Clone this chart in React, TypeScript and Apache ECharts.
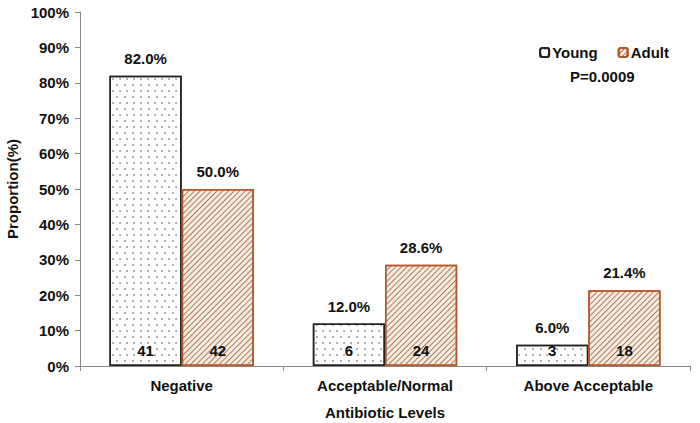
import React, { useEffect, useRef } from "react";
import * as echarts from "echarts";

const categories = ["Negative", "Acceptable/Normal", "Above Acceptable"];
const youngPct = [82.0, 12.0, 6.0];
const adultPct = [50.0, 28.6, 21.4];
const youngCount = [41, 6, 3];
const adultCount = [42, 24, 18];
const yTicks = [0, 10, 20, 30, 40, 50, 60, 70, 80, 90, 100];
const pValue = "P=0.0009";

const FONT = "Liberation Sans, Arial, sans-serif";
const FS = 15;

export default function App() {
  const ref = useRef<HTMLDivElement>(null);
  useEffect(() => {
    if (!ref.current) return;
    const chart = echarts.init(ref.current, undefined, { renderer: "svg" });
    const youngDecal = {
      symbol: "circle",
      symbolSize: 0.7,
      color: "#333",
      dashArrayX: [
        [1.6, 4.7],
        [0, 3.1, 1.6, 1.6],
      ],
      dashArrayY: [1.6, 3.6],
      rotation: 0,
    };
    const adultDecal = {
      symbol: "rect",
      symbolSize: 1,
      color: "#b07a55",
      dashArrayX: [1, 0],
      dashArrayY: [0.8, 2.4],
      rotation: -Math.PI / 4,
    };
    const common = {
      type: "bar" as const,
      barGap: "0%",
      barCategoryGap: "29%",
    };
    const txt = { fontFamily: FONT, fontWeight: "bold" as const, fontSize: FS, color: "#111" };
    chart.setOption({
      animation: false,
      grid: { left: 80, right: 10, top: 12, bottom: 57, containLabel: false, outerBoundsMode: "none" },
      legend: {
        data: ["Young", "Adult"],
        right: 26,
        top: 40,
        itemWidth: 9,
        itemHeight: 9,
        itemGap: 20,
        textStyle: { ...txt, padding: [0, 0, 0, -2] },
      },
      graphic: [
        {
          type: "text",
          left: 570,
          top: 69,
          style: { text: pValue, fontFamily: FONT, fontWeight: "bold", fontSize: FS, fill: "#111" },
        },
      ],
      xAxis: [
        {
          type: "category",
          data: categories,
          axisLine: { lineStyle: { color: "#888" } },
          axisTick: { show: true, alignWithLabel: false, length: 5, lineStyle: { color: "#888" } },
          axisLabel: { ...txt, margin: 12 },
          name: "Antibiotic Levels",
          nameLocation: "middle",
          nameGap: 39,
          nameTextStyle: txt,
        },
        {
          type: "category",
          data: categories,
          show: false,
        },
      ],
      yAxis: {
        type: "value",
        min: 0,
        max: 100,
        interval: 10,
        splitLine: { show: false },
        axisLine: { show: true, lineStyle: { color: "#888" } },
        axisTick: { show: true, length: 5, lineStyle: { color: "#888" } },
        axisLabel: {
          ...txt,
          formatter: (v: number) => (yTicks.includes(v) ? `${v}%` : ""),
          margin: 11,
        },
        name: "Proportion(%)",
        nameLocation: "middle",
        nameGap: 60,
        nameRotate: 90,
        nameTextStyle: txt,
      },
      series: [
        {
          ...common,
          name: "Young",
          data: youngPct,
          itemStyle: { color: "#ffffff", borderColor: "#222", borderWidth: 1.5, decal: youngDecal },
          label: {
            show: true,
            position: "top",
            distance: 10,
            formatter: (p: any) => `${Number(p.value).toFixed(1)}%`,
            ...txt,
          },
        },
        {
          ...common,
          name: "Adult",
          data: adultPct,
          itemStyle: { color: "#f6ece2", borderColor: "#b5572a", borderWidth: 1.5, decal: adultDecal },
          label: {
            show: true,
            position: "top",
            distance: 10,
            formatter: (p: any) => `${Number(p.value).toFixed(1)}%`,
            ...txt,
          },
        },
        {
          ...common,
          name: "YoungCount",
          xAxisIndex: 1,
          data: youngPct,
          z: 5,
          silent: true,
          itemStyle: { color: "rgba(0,0,0,0)" },
          label: {
            show: true,
            position: "insideBottom",
            distance: 8,
            formatter: (p: any) => `${youngCount[p.dataIndex]}`,
            ...txt,
          },
        },
        {
          ...common,
          name: "AdultCount",
          xAxisIndex: 1,
          data: adultPct,
          z: 5,
          silent: true,
          itemStyle: { color: "rgba(0,0,0,0)" },
          label: {
            show: true,
            position: "insideBottom",
            distance: 8,
            formatter: (p: any) => `${adultCount[p.dataIndex]}`,
            ...txt,
          },
        },
      ],
    });
    return () => chart.dispose();
  }, []);
  return <div ref={ref} style={{ width: 700, height: 423, position: "absolute", left: 0, top: 0 }} />;
}
